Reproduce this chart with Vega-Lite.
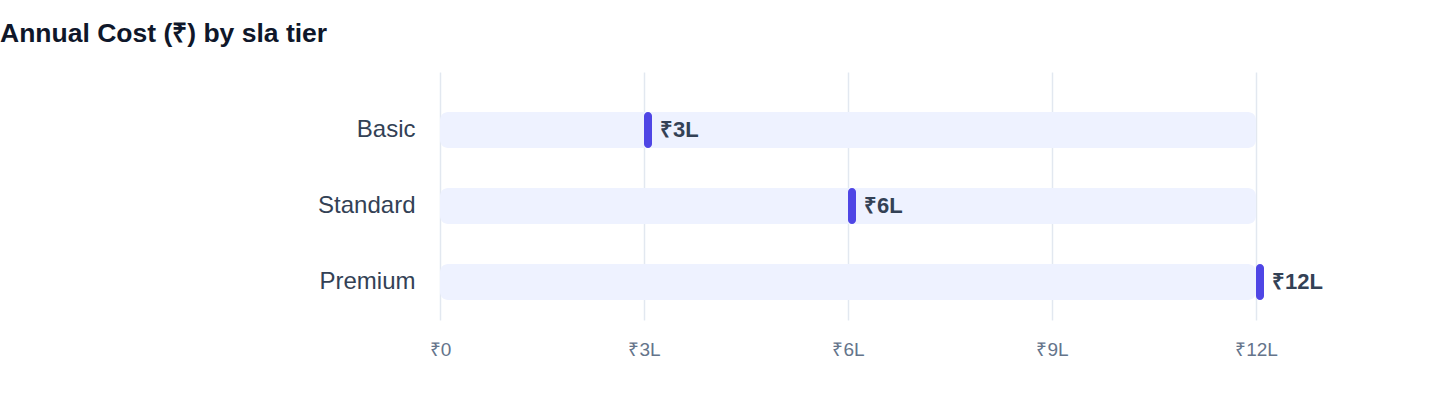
{
  "$schema": "https://vega.github.io/schema/vega-lite/v6.json",
  "autosize": "none",
  "width": 816,
  "height": 248,
  "padding": {"left": 440, "top": 72, "right": 184, "bottom": 88},
  "background": "white",
  "config": {
    "font": "Liberation Sans",
    "view": {"stroke": null}
  },
  "title": {
    "text": "Annual Cost (₹) by sla tier",
    "anchor": "start",
    "frame": "group",
    "dx": -440,
    "dy": 26,
    "offset": 30,
    "baseline": "alphabetic",
    "fontSize": 26.5,
    "fontWeight": "bold",
    "color": "#0F172A"
  },
  "data": {
    "values": [
      {"tier": "Basic", "cost": 300000, "label": "₹3L"},
      {"tier": "Standard", "cost": 600000, "label": "₹6L"},
      {"tier": "Premium", "cost": 1200000, "label": "₹12L"}
    ]
  },
  "transform": [
    {"joinaggregate": [{"op": "max", "field": "cost", "as": "max_cost"}]}
  ],
  "encoding": {
    "y": {
      "field": "tier",
      "type": "nominal",
      "sort": ["Basic", "Standard", "Premium"],
      "scale": {"paddingInner": 0.5263, "paddingOuter": 0.3947, "align": 0.667},
      "axis": {
        "title": null,
        "domain": false,
        "ticks": false,
        "grid": false,
        "labelPadding": 25,
        "labelFontSize": 24,
        "labelColor": "#334155"
      }
    }
  },
  "layer": [
    {
      "mark": {"type": "bar", "color": "#EEF2FF", "cornerRadius": 8},
      "encoding": {
        "x": {
          "field": "max_cost",
          "type": "quantitative",
          "scale": {"domain": [0, 1200000], "nice": false},
          "axis": {
            "title": null,
            "domain": false,
            "ticks": false,
            "values": [0, 300000, 600000, 900000, 1200000],
            "labelExpr": "datum.value == 0 ? '₹0' : '₹' + (datum.value / 100000) + 'L'",
            "labelFlush": false,
            "labelFontSize": 19,
            "labelColor": "#64748B",
            "labelPadding": 20,
            "gridColor": "#E2E8F0",
            "gridWidth": 1.5
          }
        }
      }
    },
    {
      "mark": {"type": "bar", "color": "#4F46E5", "cornerRadius": 4, "x2Offset": 8},
      "encoding": {
        "x": {"field": "cost", "type": "quantitative"},
        "x2": {"field": "cost"}
      }
    },
    {
      "mark": {
        "type": "text",
        "align": "left",
        "baseline": "middle",
        "dx": 16,
        "fontSize": 22,
        "fontWeight": "bold",
        "color": "#334155"
      },
      "encoding": {
        "x": {"field": "cost", "type": "quantitative"},
        "text": {"field": "label"}
      }
    }
  ]
}
